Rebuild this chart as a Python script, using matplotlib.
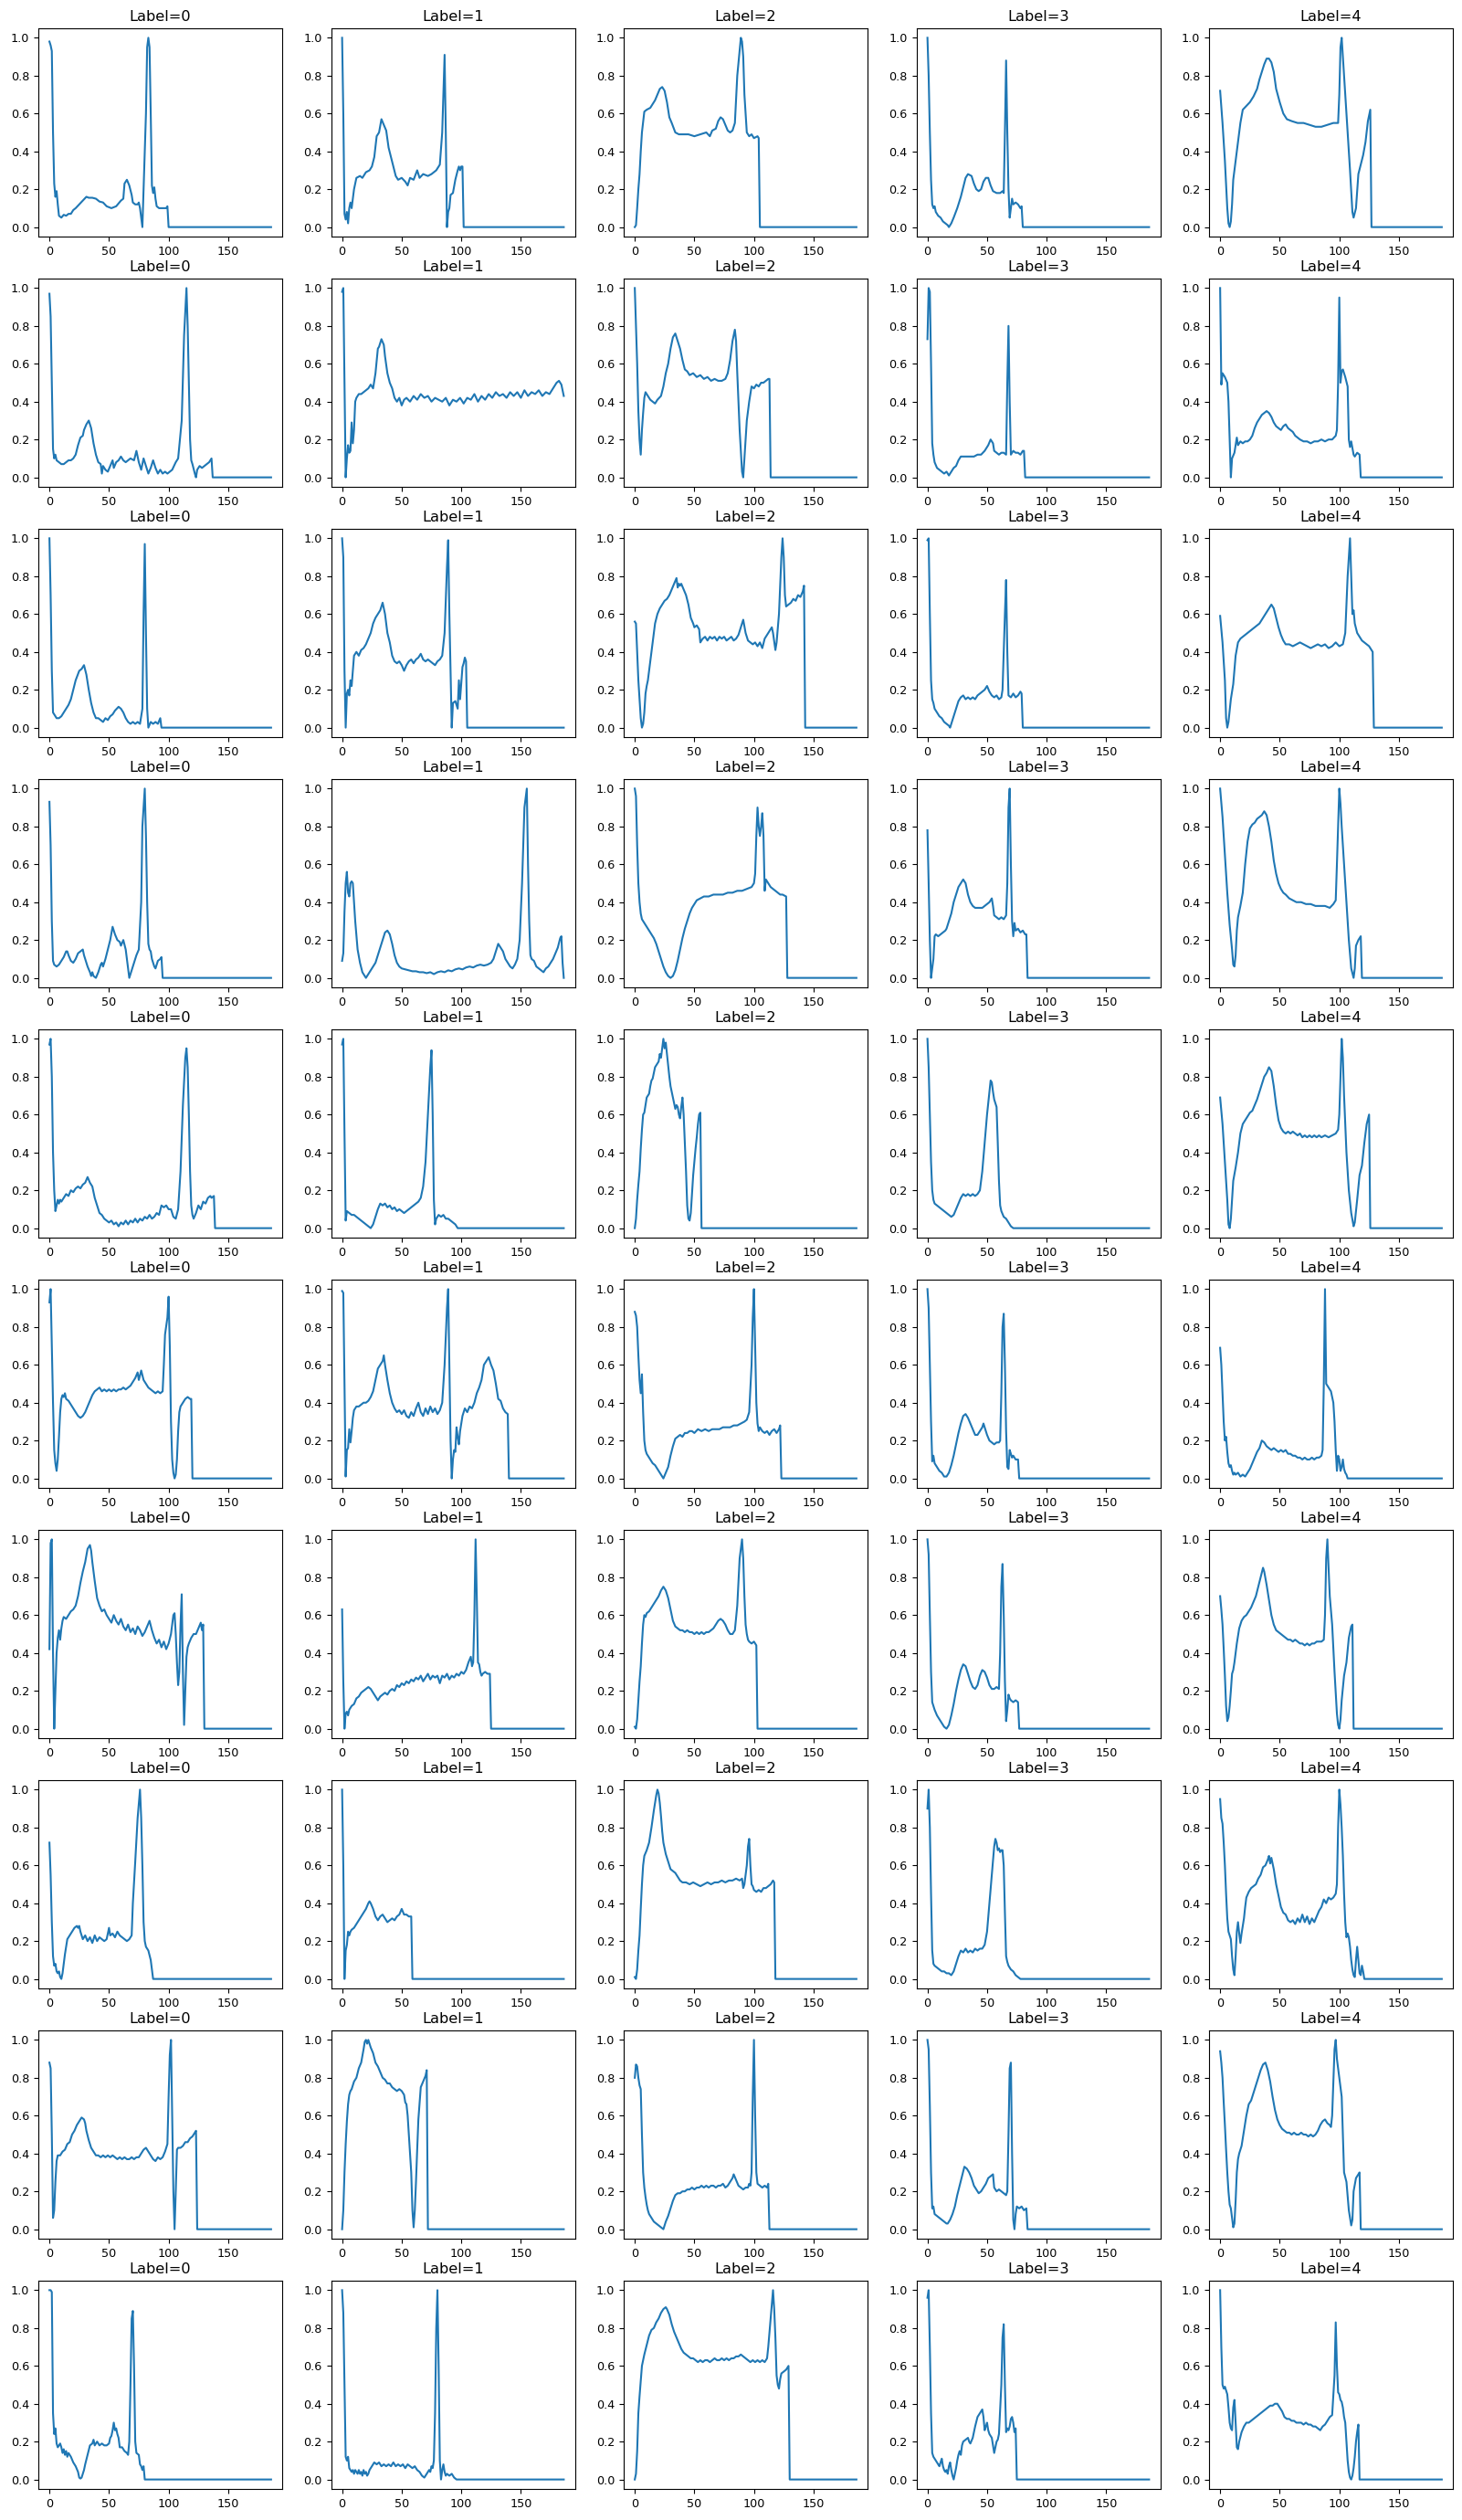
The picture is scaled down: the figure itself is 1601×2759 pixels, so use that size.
import matplotlib.pyplot as plt

# each heartbeat is 187 samples long; after the beat ends the record is zero padded
SIGNAL_LEN = 187
labels = [0, 1, 2, 3, 4]

# ---- row 1 ----
r1_l0 = [(0, .98), (1, .96), (2, .93), (3, .5), (4, .23), (5, .16), (6, .19), (7, .12), (8, .06), (10, .05), (12, .065),
         (14, .06), (16, .07), (18, .07), (20, .09), (22, .10), (25, .12), (28, .14), (31, .16), (33, .155), (36, .155),
         (39, .15), (42, .135), (45, .13), (48, .11), (52, .10), (56, .11), (60, .14), (62, .15), (63, .23), (65, .25),
         (67, .22), (69, .17), (70, .13), (72, .12), (74, .12), (75, .13), (76, .10), (78, 0.0), (79, .2), (81, .6),
         (82, .95), (83, 1.0), (84, .95), (85, .6), (86, .22), (87, .18), (88, .21), (89, .15), (90, .11), (92, .10),
         (95, .10), (98, .10), (99, .11), (100, 0.0)]
r1_l1 = [(0, 1.0), (1, .6), (2, .07), (3, .04), (4, .08), (5, .02), (6, .1), (7, .13), (8, .10), (10, .2), (12, .26),
         (15, .27), (17, .26), (20, .29), (23, .30), (25, .32), (27, .37), (29, .48), (31, .50), (33, .57), (35, .54),
         (37, .51), (39, .42), (41, .37), (43, .32), (45, .27), (47, .25), (50, .26), (53, .24), (55, .22), (57, .26),
         (60, .25), (63, .30), (65, .26), (68, .28), (72, .27), (75, .28), (79, .30), (82, .33), (84, .5), (86, .91),
         (87, .5), (88, 0.0), (89, .08), (90, .1), (91, .17), (93, .18), (95, .25), (97, .30), (98, .32), (99, .30),
         (100, .32), (101, .32), (102, 0.0)]
r1_l2 = [(0, 0.0), (1, .01), (2, .1), (3, .2), (4, .28), (5, .4), (6, .5), (8, .61), (10, .62), (13, .63), (15, .65),
         (17, .67), (19, .7), (21, .73), (23, .74), (25, .72), (27, .66), (29, .58), (31, .55), (34, .50), (37, .49),
         (40, .49), (45, .49), (50, .48), (55, .49), (60, .5), (63, .48), (65, .51), (68, .52), (70, .56), (72, .58),
         (74, .57), (76, .54), (78, .51), (80, .50), (82, .51), (84, .55), (86, .8), (89, 1.0), (90, .98), (91, .9),
         (92, .7), (94, .5), (96, .48), (98, .49), (100, .47), (103, .48), (104, .47), (105, 0.0)]
r1_l3 = [(0, 1.0), (1, .8), (2, .5), (3, .25), (4, .12), (5, .10), (6, .11), (7, .08), (9, .06), (11, .05), (13, .03),
         (15, .02), (17, .01), (18, 0.0), (20, .02), (22, .05), (25, .10), (28, .16), (30, .21), (32, .26), (34, .28),
         (37, .27), (39, .23), (41, .20), (43, .19), (45, .2), (47, .24), (49, .26), (51, .26), (53, .22), (55, .19),
         (58, .18), (61, .18), (63, .19), (64, .18), (65, .5), (66, .88), (67, .5), (68, .2), (69, .05), (70, .1),
         (71, .15), (72, .12), (74, .13), (76, .12), (78, .10), (79, .11), (80, 0.0)]
r1_l4 = [(0, .72), (2, .55), (4, .35), (6, .1), (7, .02), (8, 0.0), (9, .03), (10, .12), (11, .25), (13, .35),
         (15, .45), (17, .55), (19, .62), (22, .64), (25, .66), (28, .69), (31, .73), (33, .78), (35, .82), (37, .86),
         (39, .89), (41, .89), (43, .87), (45, .82), (47, .73), (50, .66), (53, .60), (56, .57), (60, .56), (65, .55),
         (70, .55), (75, .54), (80, .53), (85, .53), (90, .54), (95, .55), (99, .55), (100, .7), (101, .95), (102, 1.0),
         (103, .9), (106, .6), (109, .3), (111, .08), (112, .05), (114, .1), (116, .28), (118, .33), (120, .38),
         (122, .45), (124, .56), (126, .62), (127, 0.0)]

# ---- row 2 ----
r2_l0 = [(0, .97), (1, .85), (2, .5), (3, .15), (4, .1), (5, .12), (6, .09), (8, .08), (10, .07), (12, .07),
         (14, .08), (16, .09), (18, .09), (20, .10), (22, .12), (24, .17), (26, .21), (28, .22), (29, .25), (31, .28),
         (33, .30), (35, .26), (37, .18), (39, .12), (41, .08), (43, .07), (44, .02), (45, .06), (47, .04), (49, .03),
         (51, .06), (53, .09), (54, .05), (56, .08), (58, .09), (60, .11), (62, .09), (64, .08), (66, .09), (68, .1),
         (71, .09), (73, .14), (75, .08), (77, .04), (79, .10), (81, .06), (83, .02), (85, .05), (87, .09), (89, .05),
         (91, .02), (93, .04), (95, .02), (97, .03), (99, .02), (101, .03), (103, .04), (106, .08), (108, .1),
         (111, .3), (113, .75), (115, 1.0), (116, .8), (117, .5), (118, .2), (119, .09), (120, .07), (122, .02),
         (123, 0.0), (124, .04), (126, .06), (128, .05), (130, .06), (132, .07), (134, .08), (136, .10), (137, 0.0)]
r2_l1 = [(0, .98), (1, 1.0), (2, .5), (3, 0.0), (4, .1), (5, .17), (6, .13), (7, .14), (8, .29), (9, .18), (10, .25),
         (11, .4), (12, .42), (14, .44), (16, .44), (18, .45), (20, .46), (22, .47), (24, .49), (26, .47), (28, .55),
         (30, .68), (31, .69), (33, .73), (35, .70), (36, .64), (38, .55), (40, .50), (42, .47), (44, .42), (46, .40),
         (48, .42), (50, .38), (52, .41), (54, .42), (57, .40), (60, .43), (63, .41), (66, .44), (69, .42), (72, .43),
         (75, .40), (78, .42), (81, .41), (84, .40), (87, .42), (90, .38), (93, .41), (96, .40), (99, .42), (102, .39),
         (105, .42), (108, .41), (111, .44), (114, .40), (117, .43), (120, .41), (123, .44), (126, .42), (129, .45),
         (132, .43), (135, .44), (138, .42), (141, .45), (144, .43), (147, .45), (150, .42), (153, .46), (156, .43),
         (159, .45), (162, .44), (165, .46), (168, .43), (171, .45), (174, .44), (176, .46), (178, .48), (180, .50),
         (182, .51), (184, .49), (186, .43)]
r2_l2 = [(0, 1.0), (2, .6), (3, .35), (4, .2), (5, .12), (6, .25), (7, .34), (8, .42), (9, .45), (11, .43), (13, .41),
         (15, .40), (17, .39), (19, .41), (22, .43), (24, .48), (26, .55), (28, .6), (30, .68), (32, .74), (34, .76),
         (36, .72), (38, .68), (40, .62), (42, .57), (44, .56), (46, .54), (49, .55), (52, .53), (55, .54), (58, .52),
         (61, .53), (64, .51), (67, .52), (70, .51), (73, .51), (76, .52), (78, .55), (80, .62), (82, .72), (84, .78),
         (85, .72), (86, .55), (88, .25), (90, .03), (91, 0.0), (92, .1), (94, .3), (96, .4), (98, .48), (100, .47),
         (102, .49), (104, .48), (106, .5), (108, .5), (110, .51), (112, .52), (113, .52), (114, 0.0)]
r2_l3 = [(0, .73), (1, 1.0), (2, .98), (3, .6), (4, .18), (5, .12), (6, .08), (8, .05), (10, .04), (12, .03),
         (14, .02), (16, .03), (18, .01), (20, .03), (22, .05), (24, .06), (26, .09), (28, .11), (30, .11), (33, .11),
         (36, .11), (39, .11), (42, .12), (45, .12), (48, .14), (51, .17), (53, .2), (55, .18), (56, .14), (58, .13),
         (60, .12), (62, .13), (64, .13), (66, .12), (67, .5), (68, .8), (69, .4), (70, .12), (72, .14), (74, .13),
         (76, .13), (78, .12), (80, .14), (81, .14), (82, 0.0)]
r2_l4 = [(0, 1.0), (1, .49), (2, .55), (4, .53), (6, .5), (7, .4), (8, .2), (9, 0.0), (10, .1), (12, .13), (14, .21),
         (15, .17), (17, .19), (19, .18), (21, .19), (23, .19), (25, .2), (27, .22), (29, .26), (31, .29), (33, .31),
         (35, .33), (37, .34), (39, .35), (41, .34), (43, .32), (45, .29), (47, .27), (49, .26), (51, .25), (53, .27),
         (55, .28), (57, .26), (59, .25), (61, .24), (63, .22), (65, .21), (67, .2), (70, .19), (73, .19), (76, .18),
         (79, .19), (82, .19), (85, .2), (88, .19), (91, .2), (94, .2), (97, .22), (98, .25), (99, .5), (100, .95),
         (101, .5), (102, .56), (103, .57), (105, .53), (107, .48), (108, .2), (109, .16), (110, .19), (112, .12),
         (113, .11), (115, .13), (117, .12), (118, 0.0)]

# ---- row 3 ----
r3_l0 = [(0, 1.0), (1, .7), (2, .3), (3, .08), (4, .07), (6, .05), (8, .05), (10, .06), (12, .08), (14, .1),
         (16, .12), (18, .15), (20, .2), (22, .25), (25, .3), (27, .31), (29, .33), (31, .28), (33, .2), (35, .13),
         (37, .08), (39, .05), (41, .05), (43, .04), (45, .03), (47, .05), (49, .04), (51, .06), (53, .07), (55, .09),
         (58, .11), (60, .1), (62, .08), (64, .05), (66, .03), (68, .02), (70, .03), (72, .02), (74, .03), (76, .02),
         (78, .1), (79, .6), (80, .97), (81, .5), (82, .1), (83, 0.0), (85, .03), (87, .02), (89, .03), (91, .02),
         (93, .05), (94, 0.0)]
r3_l1 = [(0, 1.0), (1, .9), (2, .3), (3, 0.0), (4, .18), (5, .2), (6, .17), (7, .25), (8, .22), (9, .3), (10, .38),
         (12, .4), (14, .38), (16, .41), (18, .42), (20, .44), (22, .47), (24, .5), (26, .55), (28, .58), (30, .6),
         (32, .62), (34, .66), (36, .6), (38, .5), (40, .45), (42, .38), (44, .35), (46, .34), (48, .35), (50, .33),
         (52, .3), (54, .33), (56, .35), (58, .36), (60, .34), (62, .36), (64, .37), (66, .39), (68, .36), (70, .35),
         (72, .36), (74, .35), (76, .34), (78, .33), (80, .35), (82, .36), (84, .38), (86, .5), (88, .85), (89, .99),
         (90, .6), (91, .3), (92, 0.0), (93, .13), (95, .14), (97, .1), (98, .25), (99, .15), (101, .32), (102, .34),
         (103, .37), (104, .35), (105, 0.0)]
r3_l2 = [(0, .56), (1, .55), (2, .4), (3, .25), (5, .05), (6, 0.0), (7, .02), (8, .08), (9, .18), (10, .22),
         (11, .25), (13, .35), (15, .45), (17, .55), (19, .6), (21, .63), (23, .65), (25, .67), (27, .68), (29, .7),
         (31, .73), (33, .76), (35, .79), (36, .74), (37, .76), (38, .75), (39, .76), (41, .73), (43, .7), (45, .65),
         (47, .58), (49, .55), (50, .53), (52, .54), (54, .52), (55, .45), (57, .47), (59, .48), (61, .46), (63, .48),
         (65, .47), (67, .48), (69, .46), (71, .48), (73, .47), (75, .48), (77, .46), (79, .47), (81, .48), (83, .46),
         (85, .47), (87, .49), (89, .53), (91, .57), (93, .5), (95, .46), (97, .45), (99, .44), (101, .45), (103, .43),
         (105, .45), (107, .42), (109, .47), (111, .49), (113, .51), (115, .53), (116, .5), (118, .41), (119, .45),
         (121, .6), (123, .9), (124, 1.0), (125, .9), (126, .7), (127, .64), (129, .65), (131, .66), (133, .68),
         (135, .67), (137, .7), (139, .69), (141, .72), (142, .75), (143, 0.0)]
r3_l3 = [(0, .99), (1, 1.0), (2, .6), (3, .25), (4, .15), (5, .13), (6, .1), (8, .08), (10, .06), (12, .05),
         (14, .03), (16, .02), (18, .01), (19, 0.0), (20, .02), (22, .06), (24, .1), (26, .14), (28, .16), (30, .17),
         (32, .15), (34, .16), (36, .15), (38, .16), (40, .15), (42, .17), (44, .18), (46, .19), (48, .2), (50, .22),
         (52, .19), (54, .17), (56, .16), (58, .17), (60, .15), (62, .16), (63, .2), (65, .6), (66, .78), (67, .4),
         (68, .17), (70, .16), (72, .18), (74, .16), (76, .17), (78, .19), (79, .18), (80, 0.0)]
r3_l4 = [(0, .59), (2, .45), (4, .25), (5, .05), (6, 0.0), (7, .03), (9, .15), (11, .23), (13, .38), (15, .45),
         (17, .47), (19, .48), (21, .49), (23, .5), (25, .51), (27, .52), (29, .53), (31, .54), (33, .55), (35, .57),
         (37, .59), (39, .61), (41, .63), (43, .65), (45, .63), (47, .58), (49, .53), (51, .49), (53, .46), (55, .44),
         (58, .44), (61, .43), (64, .44), (67, .45), (70, .44), (73, .43), (76, .42), (79, .43), (82, .44), (85, .43),
         (88, .44), (91, .42), (94, .43), (97, .45), (100, .43), (103, .44), (105, .5), (107, .8), (109, 1.0),
         (110, .8), (111, .6), (112, .62), (113, .55), (115, .5), (117, .48), (119, .46), (121, .45), (123, .44),
         (125, .43), (127, .41), (128, .4), (129, 0.0)]

# ---- row 4 ----
r4_l0 = [(0, .93), (1, .7), (2, .3), (3, .09), (4, .07), (6, .06), (8, .07), (10, .09), (12, .11), (14, .14),
         (15, .14), (16, .12), (18, .09), (20, .08), (22, .1), (24, .13), (26, .14), (28, .15), (29, .12), (30, .1),
         (32, .06), (34, .03), (35, .01), (36, .03), (37, .01), (39, 0.0), (41, .03), (43, .07), (44, .08), (45, .06),
         (47, .1), (49, .15), (51, .2), (53, .27), (55, .23), (57, .2), (59, .19), (60, .17), (62, .2), (64, .15),
         (66, .05), (67, 0.0), (69, .04), (71, .08), (73, .12), (75, .15), (77, .4), (78, .8), (80, 1.0), (81, .75),
         (82, .4), (83, .18), (84, .15), (85, .14), (86, .1), (88, .06), (89, .05), (91, .09), (93, .1), (94, .11),
         (95, 0.0)]
r4_l1 = [(0, .09), (1, .13), (2, .35), (3, .5), (4, .56), (5, .45), (6, .43), (7, .5), (8, .51), (9, .5), (11, .3),
         (13, .15), (15, .08), (17, .03), (20, 0.0), (22, .02), (24, .04), (26, .06), (28, .08), (30, .12), (32, .16),
         (34, .2), (36, .24), (38, .25), (40, .23), (42, .18), (44, .12), (46, .08), (48, .06), (50, .05), (53, .045),
         (56, .04), (59, .035), (62, .035), (65, .03), (68, .03), (71, .025), (74, .03), (77, .02), (80, .03),
         (83, .035), (86, .03), (89, .04), (92, .035), (95, .045), (98, .05), (101, .045), (104, .055), (107, .06),
         (110, .055), (113, .065), (116, .07), (119, .065), (122, .07), (125, .08), (127, .1), (129, .14), (131, .18),
         (133, .16), (135, .14), (137, .1), (139, .08), (141, .06), (143, .05), (145, .07), (147, .1), (149, .2),
         (151, .5), (153, .9), (155, 1.0), (156, .6), (157, .3), (158, .12), (159, .1), (161, .09), (163, .06),
         (165, .05), (167, .04), (169, .03), (171, .05), (173, .06), (175, .08), (177, .1), (179, .13), (181, .16),
         (183, .21), (184, .22), (185, .08), (186, 0.0)]
r4_l2 = [(0, 1.0), (1, .96), (2, .7), (3, .5), (4, .4), (5, .34), (6, .31), (8, .29), (10, .27), (12, .25), (14, .23),
         (16, .21), (18, .18), (20, .14), (22, .1), (24, .06), (26, .03), (28, .01), (30, 0.0), (32, .01), (34, .04),
         (36, .09), (38, .15), (40, .21), (42, .26), (44, .3), (46, .34), (48, .37), (50, .39), (52, .41), (55, .42),
         (58, .43), (62, .43), (66, .44), (70, .44), (74, .44), (78, .45), (82, .45), (86, .46), (90, .46), (94, .47),
         (98, .48), (100, .5), (101, .55), (102, .75), (103, .9), (104, .8), (105, .75), (106, .8), (107, .87),
         (108, .75), (109, .46), (110, .52), (112, .5), (114, .48), (116, .47), (118, .46), (120, .45), (122, .44),
         (124, .44), (127, .43), (128, 0.0)]
r4_l3 = [(0, .78), (1, .5), (2, .2), (3, 0.0), (4, .05), (5, .1), (6, .22), (7, .23), (9, .22), (11, .23), (13, .24),
         (15, .25), (16, .26), (18, .3), (20, .34), (22, .4), (24, .44), (26, .48), (28, .5), (30, .52), (32, .5),
         (34, .44), (36, .4), (38, .38), (40, .37), (42, .37), (44, .37), (46, .37), (48, .38), (50, .39), (52, .4),
         (54, .42), (55, .38), (56, .33), (58, .32), (60, .31), (62, .32), (64, .31), (66, .33), (67, .5), (68, .9),
         (69, 1.0), (70, .6), (71, .3), (72, .22), (73, .29), (74, .25), (76, .26), (78, .24), (80, .25), (82, .23),
         (83, .23), (84, 0.0)]
r4_l4 = [(0, 1.0), (2, .85), (4, .65), (6, .45), (8, .28), (10, .15), (11, .07), (12, .06), (13, .12), (14, .25),
         (15, .32), (17, .38), (19, .45), (21, .6), (23, .72), (25, .79), (27, .81), (29, .82), (31, .84), (33, .85),
         (35, .86), (37, .88), (39, .86), (41, .8), (43, .72), (45, .62), (47, .55), (49, .5), (51, .47), (53, .45),
         (55, .44), (58, .42), (61, .41), (64, .4), (68, .4), (72, .39), (76, .39), (80, .38), (84, .38), (88, .38),
         (92, .37), (95, .39), (97, .41), (98, .6), (100, 1.0), (101, .92), (102, .8), (104, .6), (106, .4),
         (108, .2), (110, .05), (112, 0.0), (113, .05), (114, .17), (116, .2), (118, .22), (119, 0.0)]

# ---- row 5 ----
r5_l0 = [(0, .97), (1, 1.0), (2, .8), (3, .4), (4, .2), (5, .09), (6, .12), (7, .15), (8, .13), (9, .15), (10, .14),
         (12, .16), (14, .18), (16, .17), (18, .2), (20, .19), (22, .21), (24, .22), (26, .21), (28, .23), (30, .24),
         (32, .27), (34, .24), (36, .22), (38, .16), (40, .12), (42, .08), (44, .07), (46, .05), (48, .04), (50, .03),
         (52, .04), (54, .02), (56, .03), (58, .01), (60, .03), (62, .02), (64, .04), (66, .02), (68, .04), (70, .03),
         (72, .05), (74, .03), (76, .05), (78, .04), (80, .06), (82, .05), (84, .07), (86, .05), (88, .06), (90, .08),
         (92, .07), (94, .12), (96, .11), (98, .12), (100, .1), (102, .1), (104, .06), (106, .05), (108, .1),
         (110, .3), (112, .65), (114, .9), (115, .95), (116, .85), (117, .6), (118, .3), (119, .12), (120, .07),
         (121, .05), (123, .08), (125, .12), (127, .1), (129, .14), (131, .13), (133, .16), (135, .17), (136, .16),
         (138, .17), (139, 0.0)]
r5_l1 = [(0, .97), (1, 1.0), (2, .5), (3, .04), (4, .09), (6, .08), (8, .07), (10, .07), (12, .06), (14, .05),
         (16, .04), (18, .03), (20, .02), (22, .01), (24, 0.0), (26, .02), (28, .06), (30, .1), (32, .13), (34, .12),
         (36, .13), (38, .11), (40, .12), (42, .1), (44, .11), (46, .09), (48, .1), (50, .09), (52, .08), (54, .09),
         (56, .1), (58, .11), (60, .12), (62, .13), (64, .14), (66, .16), (68, .22), (70, .35), (72, .6), (74, .85),
         (75, .94), (76, .6), (77, .15), (78, .02), (79, .05), (81, .07), (83, .06), (85, .07), (87, .05), (89, .05),
         (91, .04), (93, .03), (95, .02), (96, .01), (97, 0.0)]
r5_l2 = [(0, 0.0), (1, .05), (2, .15), (3, .23), (4, .3), (5, .42), (6, .52), (7, .6), (8, .61), (9, .65), (10, .69),
         (11, .7), (12, .71), (13, .75), (14, .78), (15, .79), (16, .82), (17, .85), (18, .86), (19, .87), (20, .88),
         (21, .92), (22, .9), (23, .95), (24, 1.0), (25, .95), (26, .98), (27, .92), (28, .86), (29, .8), (30, .75),
         (31, .72), (32, .69), (33, .66), (34, .63), (35, .65), (36, .64), (37, .6), (38, .58), (39, .64), (40, .69),
         (41, .6), (42, .45), (43, .3), (44, .12), (45, .05), (46, .04), (47, .08), (48, .18), (49, .28), (50, .35),
         (51, .42), (52, .48), (53, .55), (54, .6), (55, .61), (56, 0.0)]
r5_l3 = [(0, 1.0), (1, .85), (2, .6), (3, .35), (4, .2), (5, .15), (6, .13), (8, .12), (10, .11), (12, .1), (14, .09),
         (16, .08), (18, .07), (20, .06), (22, .07), (24, .1), (26, .13), (28, .16), (30, .18), (32, .17), (34, .18),
         (36, .17), (38, .18), (40, .17), (42, .18), (44, .2), (45, .25), (46, .3), (48, .45), (50, .6), (52, .72),
         (53, .78), (54, .77), (55, .72), (56, .68), (57, .66), (58, .64), (59, .45), (60, .25), (61, .12), (62, .09),
         (64, .06), (66, .05), (68, .03), (70, .01), (72, 0.0)]
r5_l4 = [(0, .69), (2, .55), (4, .35), (6, .15), (7, .02), (8, 0.0), (9, .05), (10, .15), (11, .25), (13, .32),
         (15, .4), (17, .5), (19, .55), (21, .57), (23, .59), (25, .61), (27, .62), (29, .65), (31, .68), (33, .72),
         (35, .76), (37, .8), (39, .82), (41, .85), (43, .83), (45, .75), (47, .65), (49, .57), (51, .53), (53, .51),
         (55, .5), (57, .51), (59, .5), (61, .51), (63, .5), (65, .49), (67, .5), (69, .48), (71, .49), (73, .48),
         (75, .49), (77, .48), (79, .49), (81, .48), (83, .49), (85, .48), (88, .49), (91, .48), (94, .49), (97, .5),
         (99, .52), (100, .6), (102, 1.0), (103, .9), (104, .7), (106, .4), (108, .2), (110, .08), (112, .01),
         (113, .03), (115, .15), (117, .28), (119, .33), (121, .45), (123, .55), (125, .6), (126, 0.0)]

# ---- row 6 ----
r6_l0 = [(0, .93), (1, 1.0), (2, .7), (3, .4), (4, .15), (5, .08), (6, .04), (7, .1), (8, .22), (9, .35), (10, .42),
         (11, .44), (12, .43), (13, .45), (14, .42), (16, .41), (18, .39), (20, .37), (22, .35), (24, .33), (26, .32),
         (28, .33), (30, .35), (32, .38), (34, .41), (36, .44), (38, .46), (40, .47), (42, .48), (44, .46), (46, .47),
         (48, .46), (50, .47), (52, .46), (54, .47), (56, .46), (58, .47), (60, .47), (62, .48), (64, .47), (66, .48),
         (68, .49), (70, .51), (72, .53), (74, .56), (75, .52), (77, .57), (79, .52), (81, .5), (83, .48), (85, .47),
         (87, .46), (89, .45), (91, .46), (93, .45), (95, .46), (96, .6), (97, .76), (99, .85), (100, .96), (101, .7),
         (102, .3), (103, .1), (104, .03), (105, 0.0), (106, .02), (107, .1), (108, .25), (109, .35), (110, .38),
         (112, .4), (114, .42), (116, .43), (118, .42), (119, .42), (120, 0.0)]
r6_l1 = [(0, .99), (1, .98), (2, .5), (3, .01), (4, .15), (5, .16), (6, .26), (7, .19), (8, .25), (9, .32), (10, .36),
         (12, .38), (14, .38), (16, .39), (18, .4), (20, .4), (22, .41), (24, .43), (26, .46), (28, .52), (30, .58),
         (32, .6), (34, .62), (35, .65), (36, .6), (38, .52), (40, .45), (42, .4), (44, .37), (46, .35), (48, .36),
         (50, .34), (52, .36), (54, .33), (56, .32), (58, .35), (60, .33), (62, .37), (64, .4), (66, .35), (68, .33),
         (70, .37), (72, .34), (74, .38), (76, .35), (78, .37), (80, .34), (82, .36), (84, .4), (86, .6), (88, .9),
         (89, 1.0), (90, .6), (91, .2), (92, 0.0), (93, .1), (94, .15), (95, .14), (96, .27), (97, .22), (98, .18),
         (99, .25), (101, .33), (103, .37), (105, .35), (107, .38), (109, .37), (111, .4), (113, .45), (115, .48),
         (117, .52), (119, .6), (121, .62), (123, .64), (125, .6), (127, .57), (129, .5), (131, .42), (133, .41),
         (135, .37), (137, .35), (139, .34), (140, 0.0)]
r6_l2 = [(0, .88), (1, .86), (2, .8), (3, .65), (4, .52), (5, .45), (6, .55), (7, .35), (8, .2), (9, .15), (10, .13),
         (11, .12), (13, .1), (15, .08), (17, .07), (19, .05), (21, .03), (23, .01), (24, 0.0), (26, .03), (28, .06),
         (30, .12), (32, .17), (34, .21), (36, .22), (38, .23), (40, .22), (42, .24), (44, .24), (46, .25), (48, .25),
         (50, .24), (53, .26), (56, .25), (59, .26), (62, .25), (65, .26), (68, .26), (71, .26), (74, .27), (77, .27),
         (80, .27), (83, .28), (86, .28), (89, .29), (92, .3), (94, .31), (96, .35), (98, .6), (99, .85), (100, 1.0),
         (101, .7), (102, .4), (103, .29), (104, .25), (105, .27), (107, .25), (109, .24), (111, .25), (113, .23),
         (115, .25), (117, .26), (119, .24), (121, .26), (122, .28), (123, 0.0)]
r6_l3 = [(0, 1.0), (1, .9), (2, .6), (3, .3), (4, .09), (5, .12), (6, .08), (8, .06), (10, .04), (12, .03), (14, .01),
         (16, .01), (18, .03), (20, .07), (22, .12), (24, .18), (26, .24), (28, .29), (30, .33), (32, .34), (34, .32),
         (36, .29), (38, .26), (40, .23), (42, .23), (44, .25), (46, .27), (47, .29), (48, .27), (50, .23), (52, .2),
         (54, .19), (56, .18), (58, .19), (60, .19), (61, .2), (62, .45), (63, .8), (64, .87), (65, .6), (66, .25),
         (67, .06), (68, .05), (69, .15), (70, .13), (71, .11), (72, .12), (74, .1), (76, .1), (77, 0.0)]
r6_l4 = [(0, .69), (1, .6), (2, .45), (3, .3), (4, .2), (5, .22), (6, .14), (7, .08), (8, .06), (9, .07), (10, .04),
         (11, .02), (12, .03), (13, .02), (15, .03), (17, .01), (19, .02), (21, .01), (23, .03), (25, .05), (27, .08),
         (29, .11), (31, .14), (33, .16), (35, .2), (37, .19), (39, .17), (41, .16), (43, .15), (45, .16), (47, .15),
         (49, .14), (51, .15), (53, .14), (55, .15), (57, .13), (59, .13), (61, .12), (63, .12), (65, .11), (67, .11),
         (69, .1), (71, .11), (73, .1), (75, .1), (77, .11), (79, .1), (81, .11), (83, .11), (85, .12), (86, .15),
         (87, .5), (88, 1.0), (89, .5), (90, .49), (91, .48), (93, .46), (95, .4), (96, .3), (97, .15), (98, .04),
         (99, .12), (100, .1), (101, .04), (102, .06), (103, .1), (104, .05), (105, .03), (106, .02), (107, 0.0)]

# ---- row 7 ----
r7_l0 = [(0, .42), (1, .98), (2, 1.0), (3, .4), (4, 0.0), (5, .2), (6, .4), (7, .48), (8, .52), (9, .47), (10, .53),
         (11, .57), (12, .59), (14, .58), (16, .6), (18, .62), (20, .63), (22, .65), (24, .7), (26, .77), (28, .83),
         (30, .88), (32, .95), (34, .97), (35, .94), (36, .88), (38, .78), (40, .69), (42, .65), (44, .62), (46, .63),
         (48, .6), (50, .58), (52, .56), (54, .6), (56, .57), (58, .55), (60, .58), (62, .54), (64, .52), (66, .55),
         (68, .51), (70, .53), (72, .5), (74, .54), (76, .52), (78, .49), (80, .51), (82, .54), (84, .57), (86, .52),
         (88, .48), (90, .45), (92, .47), (94, .43), (96, .46), (98, .42), (100, .45), (102, .5), (104, .6),
         (105, .61), (106, .5), (107, .35), (108, .23), (109, .3), (110, .55), (111, .71), (112, .3), (113, .02),
         (114, .2), (115, .38), (116, .43), (117, .45), (119, .48), (121, .5), (123, .5), (125, .53), (127, .56),
         (128, .52), (129, .55), (130, 0.0)]
r7_l1 = [(0, .63), (1, .25), (2, 0.0), (3, .08), (4, .09), (5, .07), (6, .1), (8, .12), (10, .13), (12, .16),
         (14, .17), (16, .19), (18, .2), (20, .21), (22, .22), (24, .21), (26, .19), (28, .17), (30, .15), (32, .17),
         (34, .18), (36, .19), (38, .18), (40, .2), (42, .21), (44, .2), (46, .23), (48, .22), (50, .24), (52, .23),
         (54, .25), (56, .24), (58, .26), (60, .25), (62, .27), (64, .26), (66, .28), (68, .25), (70, .27), (72, .29),
         (74, .26), (76, .28), (78, .27), (80, .28), (82, .24), (84, .28), (86, .27), (88, .29), (90, .26), (92, .28),
         (94, .27), (96, .29), (98, .28), (100, .3), (102, .29), (104, .31), (106, .35), (108, .38), (109, .33),
         (110, .35), (111, .6), (112, 1.0), (113, .7), (114, .35), (115, .34), (116, .3), (117, .28), (118, .29),
         (120, .3), (122, .29), (124, .29), (125, 0.0)]
r7_l2 = [(0, .01), (1, 0.0), (2, .05), (3, .15), (4, .25), (5, .33), (6, .45), (7, .55), (8, .6), (9, .59), (10, .61),
         (12, .62), (14, .64), (16, .66), (18, .68), (20, .7), (22, .73), (24, .75), (26, .73), (28, .69), (30, .63),
         (32, .57), (34, .54), (36, .53), (38, .52), (40, .52), (42, .51), (44, .52), (46, .51), (48, .51), (50, .5),
         (52, .51), (54, .5), (56, .51), (58, .5), (60, .51), (62, .51), (64, .52), (66, .53), (68, .55), (70, .57),
         (72, .58), (74, .57), (76, .55), (78, .52), (80, .5), (82, .5), (84, .52), (86, .65), (88, .9), (90, 1.0),
         (91, .9), (92, .7), (93, .55), (94, .5), (95, .47), (96, .46), (98, .45), (100, .46), (101, .45), (102, .44),
         (103, 0.0)]
r7_l3 = [(0, 1.0), (1, .92), (2, .6), (3, .3), (4, .14), (5, .12), (6, .1), (8, .07), (10, .05), (12, .03), (14, .01),
         (16, 0.0), (18, .02), (20, .07), (22, .13), (24, .2), (26, .26), (28, .31), (30, .34), (32, .33), (34, .29),
         (36, .25), (38, .22), (40, .21), (42, .23), (44, .28), (46, .31), (48, .3), (50, .27), (52, .23), (54, .21),
         (56, .21), (58, .22), (60, .21), (61, .4), (62, .75), (63, .87), (64, .6), (65, .25), (66, .04), (67, .1),
         (68, .18), (69, .16), (70, .15), (72, .14), (74, .15), (76, .14), (77, 0.0)]
r7_l4 = [(0, .7), (1, .63), (2, .55), (3, .42), (4, .28), (5, .12), (6, .04), (7, .06), (8, .12), (9, .2), (10, .29),
         (11, .31), (12, .35), (14, .45), (16, .53), (18, .57), (20, .59), (22, .6), (24, .62), (26, .64), (28, .67),
         (30, .7), (32, .75), (34, .8), (36, .85), (37, .83), (39, .76), (41, .68), (43, .6), (45, .55), (47, .52),
         (49, .51), (51, .5), (53, .49), (55, .48), (57, .47), (59, .47), (61, .46), (63, .47), (65, .46), (67, .45),
         (69, .45), (71, .44), (73, .45), (75, .44), (77, .45), (79, .45), (81, .46), (83, .46), (85, .46), (87, .47),
         (88, .6), (89, .9), (90, 1.0), (91, .85), (92, .7), (94, .55), (96, .3), (98, .08), (99, .02), (100, 0.0),
         (101, .05), (102, .15), (104, .28), (106, .35), (108, .48), (110, .54), (111, .55), (112, 0.0)]

# ---- row 8 ----
r8_l0 = [(0, .72), (1, .55), (2, .3), (3, .12), (4, .07), (5, .08), (6, .04), (7, .03), (8, .04), (9, .01), (10, 0.0),
         (11, .03), (12, .08), (13, .13), (14, .17), (15, .21), (17, .23), (19, .25), (21, .27), (23, .28), (24, .27),
         (25, .28), (26, .25), (27, .23), (28, .21), (30, .23), (32, .2), (34, .22), (36, .19), (38, .23), (40, .2),
         (42, .22), (44, .21), (46, .2), (48, .21), (50, .27), (51, .23), (53, .24), (55, .22), (57, .25), (59, .23),
         (61, .22), (63, .21), (65, .2), (67, .21), (69, .23), (70, .4), (72, .62), (74, .85), (76, 1.0), (77, .85),
         (78, .6), (79, .3), (80, .2), (81, .17), (83, .15), (85, .1), (86, .05), (87, 0.0)]
r8_l1 = [(0, 1.0), (1, .6), (2, 0.0), (3, .15), (4, .18), (5, .25), (6, .23), (7, .25), (8, .26), (10, .27), (12, .29),
         (14, .31), (16, .33), (18, .35), (20, .37), (22, .4), (23, .41), (24, .4), (26, .37), (28, .33), (30, .31),
         (32, .33), (34, .34), (36, .32), (38, .3), (40, .31), (42, .32), (44, .31), (46, .33), (48, .34), (50, .37),
         (52, .34), (54, .34), (56, .33), (58, .33), (59, 0.0)]
r8_l2 = [(0, .01), (1, 0.0), (2, .05), (3, .15), (4, .23), (5, .37), (6, .5), (7, .6), (8, .65), (10, .68), (12, .72),
         (14, .8), (16, .89), (18, .97), (19, 1.0), (20, .98), (21, .93), (22, .86), (23, .78), (24, .72), (26, .66),
         (28, .62), (30, .58), (32, .57), (34, .56), (36, .54), (38, .52), (40, .51), (43, .51), (46, .5), (49, .51),
         (52, .5), (55, .49), (58, .5), (61, .51), (64, .5), (67, .51), (70, .51), (73, .52), (76, .51), (79, .52),
         (82, .52), (85, .53), (88, .52), (90, .53), (91, .48), (92, .5), (94, .6), (95, .7), (96, .74), (97, .6),
         (98, .5), (99, .49), (100, .47), (102, .46), (104, .47), (106, .46), (108, .48), (110, .48), (112, .49),
         (114, .5), (116, .52), (117, .51), (118, 0.0)]
r8_l3 = [(0, .9), (1, 1.0), (2, .8), (3, .45), (4, .15), (5, .08), (6, .07), (8, .06), (10, .05), (12, .04), (14, .04),
         (16, .03), (18, .03), (20, .02), (22, .04), (24, .08), (26, .12), (28, .15), (30, .14), (32, .16), (34, .14),
         (36, .15), (38, .14), (40, .16), (42, .15), (44, .16), (46, .16), (48, .18), (50, .25), (52, .4), (54, .55),
         (56, .7), (57, .74), (58, .72), (59, .68), (60, .69), (61, .67), (62, .68), (63, .68), (64, .6), (65, .35),
         (66, .12), (67, .09), (68, .07), (70, .05), (72, .04), (74, .02), (76, .01), (78, 0.0)]
r8_l4 = [(0, .95), (1, .85), (2, .82), (3, .72), (4, .6), (5, .45), (6, .32), (7, .25), (8, .23), (9, .21), (10, .12),
         (11, .05), (12, .02), (13, .12), (14, .25), (15, .3), (16, .24), (17, .19), (18, .24), (19, .28), (20, .32),
         (21, .38), (22, .43), (24, .46), (26, .48), (28, .49), (30, .5), (32, .53), (34, .55), (36, .59), (38, .6),
         (40, .63), (41, .65), (42, .61), (43, .64), (45, .58), (47, .5), (49, .44), (51, .38), (53, .35), (55, .34),
         (57, .31), (59, .3), (61, .31), (63, .29), (65, .32), (67, .3), (69, .34), (71, .3), (73, .33), (75, .29),
         (77, .32), (79, .3), (81, .33), (83, .36), (85, .38), (87, .42), (89, .4), (91, .43), (93, .42), (95, .43),
         (97, .45), (98, .5), (99, .8), (100, 1.0), (101, .92), (102, .8), (103, .65), (104, .45), (105, .3),
         (106, .22), (107, .24), (108, .22), (109, .17), (110, .1), (111, .05), (112, .02), (113, .01), (114, .1),
         (115, .17), (116, .1), (117, .03), (118, .02), (119, .07), (120, .04), (121, 0.0)]

# ---- row 9 ----
r9_l0 = [(0, .88), (1, .85), (2, .5), (3, .06), (4, .1), (5, .25), (6, .36), (7, .39), (9, .39), (11, .41), (13, .42),
         (15, .45), (17, .46), (19, .5), (21, .52), (23, .55), (25, .57), (27, .59), (29, .58), (30, .56), (31, .52),
         (33, .47), (35, .43), (37, .41), (39, .39), (41, .39), (43, .38), (45, .39), (47, .38), (49, .39), (51, .38),
         (53, .39), (55, .38), (57, .37), (59, .38), (61, .37), (63, .38), (65, .37), (67, .37), (69, .38), (71, .37),
         (73, .38), (75, .38), (77, .4), (79, .42), (81, .43), (83, .41), (85, .39), (87, .37), (89, .36), (91, .38),
         (93, .37), (95, .38), (97, .41), (99, .45), (100, .7), (101, .92), (102, 1.0), (103, .6), (104, .2),
         (105, 0.0), (106, .2), (107, .42), (108, .43), (110, .43), (112, .44), (114, .46), (116, .46), (118, .48),
         (120, .49), (122, .51), (123, .52), (124, 0.0)]
r9_l1 = [(0, 0.0), (1, .1), (2, .3), (3, .45), (4, .57), (5, .66), (6, .71), (7, .73), (8, .74), (10, .78), (12, .8),
         (14, .85), (16, .88), (18, .95), (19, .99), (20, 1.0), (21, .98), (22, 1.0), (24, .96), (26, .93), (28, .88),
         (30, .86), (32, .83), (34, .8), (36, .79), (38, .77), (40, .77), (42, .75), (44, .74), (46, .73), (48, .74),
         (50, .73), (52, .71), (53, .67), (54, .66), (55, .6), (56, .5), (57, .4), (58, .3), (59, .1), (60, .01),
         (61, .1), (62, .25), (63, .42), (64, .58), (66, .75), (68, .78), (70, .81), (71, .84), (72, 0.0)]
r9_l2 = [(0, .8), (1, .87), (2, .86), (3, .8), (4, .76), (5, .74), (6, .5), (7, .3), (8, .22), (9, .17), (10, .13),
         (11, .1), (12, .08), (14, .06), (16, .04), (18, .03), (20, .02), (22, .01), (24, 0.0), (26, .04), (28, .07),
         (30, .11), (32, .15), (34, .18), (36, .19), (38, .19), (40, .2), (42, .2), (44, .21), (46, .21), (48, .22),
         (50, .21), (52, .22), (54, .22), (56, .23), (58, .22), (60, .23), (62, .22), (64, .23), (66, .23), (68, .22),
         (70, .23), (72, .23), (74, .24), (76, .22), (78, .23), (80, .25), (82, .27), (83, .29), (85, .26), (87, .23),
         (89, .22), (91, .21), (93, .22), (95, .22), (96, .24), (97, .23), (98, .3), (99, .7), (100, 1.0), (101, .6),
         (102, .3), (103, .24), (105, .23), (107, .22), (109, .23), (111, .22), (112, .24), (113, 0.0)]
r9_l3 = [(0, 1.0), (1, .95), (2, .65), (3, .3), (4, .11), (5, .12), (6, .08), (8, .07), (10, .06), (12, .05), (14, .04),
         (16, .03), (17, .03), (19, .05), (21, .08), (23, .12), (25, .18), (27, .23), (29, .28), (31, .33), (33, .32),
         (35, .3), (37, .27), (39, .23), (41, .21), (43, .19), (45, .2), (47, .22), (49, .24), (51, .27), (53, .28),
         (55, .29), (56, .22), (58, .2), (60, .21), (62, .2), (64, .19), (66, .18), (67, .2), (68, .5), (69, .85),
         (70, .88), (71, .4), (72, .05), (73, 0.0), (74, .08), (75, .12), (77, .11), (79, .12), (81, .1), (83, .11),
         (84, 0.0)]
r9_l4 = [(0, .94), (1, .88), (2, .8), (3, .67), (4, .55), (5, .42), (6, .3), (7, .2), (8, .13), (9, .11), (10, .06),
         (11, .01), (12, .03), (13, .15), (14, .3), (15, .37), (16, .4), (18, .44), (20, .52), (22, .6), (24, .66),
         (26, .68), (28, .72), (30, .76), (32, .8), (34, .84), (36, .87), (38, .88), (40, .84), (42, .78), (44, .7),
         (46, .63), (48, .58), (50, .55), (52, .53), (54, .52), (56, .51), (58, .51), (60, .5), (62, .51), (64, .5),
         (66, .5), (68, .51), (70, .5), (72, .5), (74, .49), (76, .5), (78, .49), (80, .5), (82, .52), (84, .55),
         (86, .57), (88, .58), (90, .56), (92, .55), (93, .54), (94, .6), (96, .95), (97, 1.0), (98, .9), (99, .85),
         (100, .8), (102, .7), (103, .5), (104, .3), (106, .25), (108, .1), (110, .02), (111, .05), (112, .2),
         (114, .27), (116, .29), (117, .3), (118, 0.0)]

# ---- row 10 ----
r10_l0 = [(0, 1.0), (1, 1.0), (2, .99), (3, .35), (4, .24), (5, .27), (6, .19), (7, .17), (8, .18), (9, .19),
          (10, .17), (11, .14), (12, .16), (13, .13), (14, .15), (15, .12), (16, .14), (18, .12), (20, .09), (22, .07),
          (24, .04), (25, .01), (26, .005), (27, .01), (28, .03), (29, .05), (30, .08), (32, .13), (34, .18),
          (36, .19), (37, .21), (38, .18), (40, .2), (42, .18), (44, .19), (46, .18), (48, .18), (50, .19), (51, .22),
          (52, .23), (53, .26), (54, .3), (55, .26), (56, .27), (57, .24), (58, .22), (59, .17), (61, .17), (63, .15),
          (65, .14), (66, .13), (67, .2), (68, .5), (69, .85), (70, .89), (71, .6), (72, .2), (73, .14), (75, .13),
          (76, .08), (77, .07), (78, .05), (79, .07), (80, 0.0)]
r10_l1 = [(0, 1.0), (1, .88), (2, .5), (3, .12), (4, .1), (5, .12), (6, .06), (7, .05), (8, .04), (9, .05), (10, .03),
          (11, .05), (12, .04), (13, .03), (14, .05), (15, .03), (16, .04), (17, .02), (18, .05), (19, .03), (20, .04),
          (21, .02), (22, .03), (23, .05), (25, .07), (27, .09), (29, .08), (31, .09), (33, .07), (35, .08), (37, .07),
          (39, .08), (41, .07), (43, .09), (45, .07), (47, .08), (49, .07), (51, .08), (53, .06), (55, .08), (57, .07),
          (59, .06), (61, .07), (63, .05), (65, .04), (67, .02), (69, .01), (71, .03), (73, .05), (74, .04), (75, .07),
          (76, .06), (77, .1), (78, .35), (79, .8), (80, 1.0), (81, .6), (82, .1), (83, 0.0), (84, .05), (85, .08),
          (86, .04), (87, .02), (88, .03), (90, .02), (92, .03), (94, .01), (96, 0.0)]
r10_l2 = [(0, 0.0), (1, .03), (2, .15), (3, .35), (4, .44), (5, .52), (6, .6), (8, .66), (10, .71), (12, .76),
          (14, .79), (16, .8), (18, .83), (20, .85), (22, .88), (24, .9), (26, .91), (27, .9), (29, .87), (31, .82),
          (33, .78), (35, .75), (37, .72), (39, .69), (41, .67), (43, .66), (45, .65), (47, .64), (49, .64), (51, .63),
          (53, .62), (55, .63), (57, .62), (59, .63), (61, .63), (63, .62), (65, .63), (67, .64), (69, .63), (71, .63),
          (73, .64), (75, .63), (77, .64), (79, .63), (81, .64), (83, .64), (85, .65), (87, .65), (89, .66), (91, .65),
          (93, .64), (95, .63), (97, .62), (99, .63), (101, .62), (103, .63), (105, .62), (107, .63), (109, .62),
          (111, .64), (112, .7), (114, .85), (116, 1.0), (117, .9), (118, .75), (119, .55), (120, .5), (121, .48),
          (122, .53), (123, .56), (125, .57), (127, .58), (129, .6), (130, 0.0)]
r10_l3 = [(0, .96), (1, 1.0), (2, .7), (3, .35), (4, .14), (5, .12), (6, .11), (7, .1), (8, .09), (9, .08), (10, .07),
          (11, .09), (12, .11), (13, .07), (14, .05), (15, .04), (16, .05), (17, .03), (18, .07), (19, .09), (20, .05),
          (21, .02), (22, 0.0), (23, .03), (24, .06), (25, .1), (26, .13), (27, .15), (28, .13), (29, .18), (30, .2),
          (32, .21), (34, .22), (35, .2), (36, .19), (38, .22), (40, .28), (42, .33), (44, .35), (46, .37), (47, .33),
          (48, .26), (49, .28), (50, .3), (51, .26), (52, .24), (54, .22), (55, .18), (56, .14), (57, .17), (58, .2),
          (59, .21), (60, .24), (62, .5), (63, .75), (64, .82), (65, .5), (66, .25), (67, .27), (68, .26), (69, .28),
          (70, .32), (71, .33), (72, .3), (73, .25), (74, .27), (75, 0.0)]
r10_l4 = [(0, 1.0), (1, .7), (2, .5), (3, .48), (4, .49), (5, .47), (6, .45), (7, .38), (8, .3), (9, .27), (10, .26),
          (11, .38), (12, .42), (13, .3), (14, .17), (15, .16), (16, .2), (18, .25), (20, .28), (22, .3), (24, .3),
          (26, .31), (28, .32), (30, .33), (32, .34), (34, .35), (36, .36), (38, .37), (40, .38), (42, .39), (44, .39),
          (46, .4), (48, .4), (50, .38), (52, .36), (54, .33), (56, .32), (58, .32), (60, .31), (62, .31), (64, .3),
          (66, .3), (68, .3), (70, .29), (72, .3), (74, .29), (76, .29), (78, .28), (80, .28), (82, .27), (84, .26),
          (86, .28), (88, .29), (90, .31), (92, .33), (94, .34), (96, .55), (97, .83), (98, .6), (99, .46), (100, .45),
          (101, .42), (102, .41), (103, .38), (104, .33), (105, .3), (106, .2), (107, .1), (108, .04), (109, .01),
          (110, 0.0), (111, .02), (112, .06), (113, .12), (114, .2), (115, .25), (116, .29), (117, 0.0)]

grid = [
    [r1_l0, r1_l1, r1_l2, r1_l3, r1_l4],
    [r2_l0, r2_l1, r2_l2, r2_l3, r2_l4],
    [r3_l0, r3_l1, r3_l2, r3_l3, r3_l4],
    [r4_l0, r4_l1, r4_l2, r4_l3, r4_l4],
    [r5_l0, r5_l1, r5_l2, r5_l3, r5_l4],
    [r6_l0, r6_l1, r6_l2, r6_l3, r6_l4],
    [r7_l0, r7_l1, r7_l2, r7_l3, r7_l4],
    [r8_l0, r8_l1, r8_l2, r8_l3, r8_l4],
    [r9_l0, r9_l1, r9_l2, r9_l3, r9_l4],
    [r10_l0, r10_l1, r10_l2, r10_l3, r10_l4],
]

W, H = 1601, 2759
fig = plt.figure(figsize=(W / 100, H / 100), dpi=100)

for r, row in enumerate(grid):
    for c, pts in enumerate(row):
        left = 42 + 320.5 * c
        top = 31 + 274 * r
        ax = fig.add_axes([left / W, 1 - (top + 228) / H, 267 / W, 228 / H])
        x = [p[0] for p in pts]
        y = [p[1] for p in pts]
        if x[-1] < SIGNAL_LEN - 1:
            # zero padding up to the record length
            x.append(SIGNAL_LEN - 1)
            y.append(0.0)
        ax.plot(x, y, color='tab:blue', linewidth=1.5)
        ax.set_title("Label=" + str(labels[c]), fontsize=11.6)
        ax.tick_params(labelsize=9.2)
        ax.set_yticks([0.0, 0.2, 0.4, 0.6, 0.8, 1.0])
        ax.set_xticks([0, 50, 100, 150])

plt.savefig("out.png", dpi=100)
